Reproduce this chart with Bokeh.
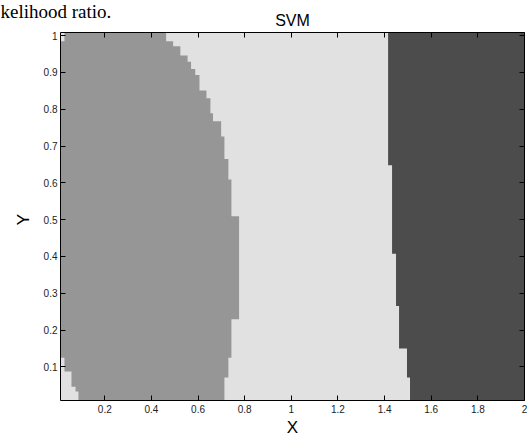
import math
from bokeh.plotting import figure
from bokeh.models import Range1d, LinearAxis, FixedTicker, Label
from bokeh.embed import file_html
from bokeh.resources import INLINE

# ---- axis extents and ticks ----
x_lo, x_hi = 0.01, 2.0
y_lo, y_hi = 0.0085, 1.0085
x_ticks = [0.2, 0.4, 0.6, 0.8, 1.0, 1.2, 1.4, 1.6, 1.8, 2.0]
x_tick_labels = ["0.2", "0.4", "0.6", "0.8", "1", "1.2", "1.4", "1.6", "1.8", "2"]
y_ticks = [0.1, 0.2, 0.3, 0.4, 0.5, 0.6, 0.7, 0.8, 0.9, 1.0]
y_tick_labels = ["0.1", "0.2", "0.3", "0.4", "0.5", "0.6", "0.7", "0.8", "0.9", "1"]

# ---- class 1 region (mid gray), one row band per entry (top to bottom) ----
mid_bottom = [0.985, 0.971, 0.946, 0.929, 0.909, 0.893, 0.851, 0.830, 0.789, 0.767, 0.726,
              0.665, 0.609, 0.509, 0.229, 0.125, 0.087, 0.071, 0.046, 0.033, y_lo]
mid_top = [y_hi, 0.985, 0.971, 0.946, 0.929, 0.909, 0.893, 0.851, 0.830, 0.789, 0.767,
           0.726, 0.665, 0.609, 0.509, 0.229, 0.125, 0.087, 0.071, 0.046, 0.033]
mid_left = [0.027, 0.010, 0.010, 0.010, 0.010, 0.010, 0.010, 0.010, 0.010, 0.010, 0.010,
            0.010, 0.010, 0.010, 0.010, 0.010, 0.027, 0.057, 0.057, 0.0745, 0.087]
mid_right = [0.463, 0.493, 0.524, 0.555, 0.570, 0.588, 0.606, 0.636, 0.653, 0.664, 0.699,
             0.713, 0.730, 0.743, 0.776, 0.743, 0.730, 0.730, 0.713, 0.713, 0.713]

# ---- class 3 region (dark gray), extends to right edge (top to bottom) ----
dark_bottom = [0.648, 0.407, 0.265, 0.150, 0.071, y_lo]
dark_top = [y_hi, 0.648, 0.407, 0.265, 0.150, 0.071]
dark_left = [1.415, 1.432, 1.449, 1.462, 1.496, 1.509]

light_color = "#e1e1e1"
mid_color = "#969696"
dark_color = "#4c4c4c"

# ---- layout (pixels) ----
W, H = 527, 439
frame_l, frame_r, frame_t, frame_b = 60, 524, 32, 400
ux = (x_hi - x_lo) / (frame_r - frame_l)
uy = (y_hi - y_lo) / (frame_b - frame_t)
xr = Range1d(x_lo - frame_l * ux, x_hi + (W - frame_r) * ux)
yr = Range1d(y_lo - (H - frame_b) * uy, y_hi + frame_t * uy)

p = figure(width=W, height=H, x_range=xr, y_range=yr, output_backend="svg",
           toolbar_location=None, x_axis_location=None, y_axis_location=None,
           min_border=0)
p.title.visible = False
p.grid.visible = False
p.outline_line_color = None
p.background_fill_color = "white"
p.border_fill_color = "white"

# class 2 (light) fills the whole domain
p.quad(left=[x_lo], right=[x_hi], bottom=[y_lo], top=[y_hi],
       fill_color=light_color, line_color=None)

# class 1 polygon: right staircase top->bottom, then left staircase bottom->top
mx, my = [], []
for l, r, b, t in zip(mid_left, mid_right, mid_bottom, mid_top):
    mx += [r, r]
    my += [t, b]
for l, r, b, t in reversed(list(zip(mid_left, mid_right, mid_bottom, mid_top))):
    mx += [l, l]
    my += [b, t]
p.patch(mx, my, fill_color=mid_color, line_color=None)

# class 3 polygon: left staircase top->bottom, then right edge
dx, dy = [], []
for l, b, t in zip(dark_left, dark_bottom, dark_top):
    dx += [l, l]
    dy += [t, b]
dx += [x_hi, x_hi]
dy += [dark_bottom[-1], dark_top[0]]
p.patch(dx, dy, fill_color=dark_color, line_color=None)

# plot box
p.quad(left=[x_lo], right=[x_hi], bottom=[y_lo], top=[y_hi],
       fill_color=None, line_color="black", line_width=1)

font = "Liberation Sans"

def make_axis(ticks, labels, loc):
    ax = LinearAxis(fixed_location=loc)
    ax.ticker = FixedTicker(ticks=ticks)
    ax.major_label_overrides = {t: l for t, l in zip(ticks, labels)}
    ax.axis_line_color = None
    ax.major_tick_in = 5
    ax.major_tick_out = 0
    ax.major_tick_line_color = "black"
    ax.minor_tick_line_color = None
    ax.major_label_text_font = font
    ax.major_label_text_font_size = "10px"
    ax.major_label_text_color = "#222222"
    return ax

bottom_ax = make_axis(x_ticks, x_tick_labels, y_lo)
bottom_ax.major_label_standoff = 4
p.add_layout(bottom_ax, "below")
left_ax = make_axis(y_ticks, y_tick_labels, x_lo)
left_ax.major_label_standoff = 3
p.add_layout(left_ax, "left")
top_ax = make_axis(x_ticks, [""] * len(x_ticks), y_hi)
p.add_layout(top_ax, "above")
right_ax = make_axis(y_ticks, [""] * len(y_ticks), x_hi)
p.add_layout(right_ax, "right")

xc = (x_lo + x_hi) / 2
p.add_layout(Label(x=xc, y=y_hi, y_offset=12, text="SVM", text_align="center",
                   text_baseline="alphabetic", text_font=font, text_font_size="16px",
                   text_color="black"))
p.add_layout(Label(x=xc, y=y_lo, y_offset=-27, text="X", text_align="center",
                   text_baseline="alphabetic", text_font=font, text_font_size="17px",
                   text_color="black"))
p.add_layout(Label(x=x_lo, x_offset=-37, y=0.5, text="Y", angle=math.pi / 2,
                   text_align="center", text_baseline="middle", text_font=font,
                   text_font_size="17px", text_color="black"))
p.add_layout(Label(x=x_lo, x_offset=-60, y=y_hi, y_offset=21, text="kelihood ratio.",
                   text_align="left", text_baseline="alphabetic",
                   text_font="Liberation Serif", text_font_size="19px", text_color="black"))

open("out.html", "w").write(file_html(p, INLINE))
